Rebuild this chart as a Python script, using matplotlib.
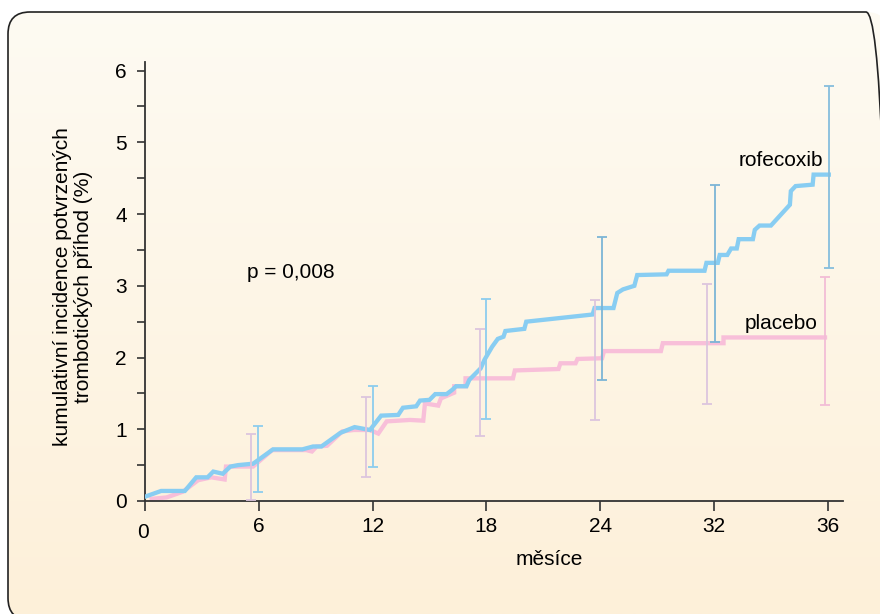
import matplotlib
matplotlib.use('Agg')
import matplotlib.pyplot as plt
import numpy as np
from matplotlib.patches import FancyBboxPatch
from matplotlib.transforms import ScaledTranslation

# x is on the drawn month scale (the "32" tick sits where 30 would be)
rofe_x = [0, 0.85, 2.1, 2.7, 3.3, 3.6, 4.1, 4.5, 4.9, 5.7, 6.75, 8.3, 8.86, 9.3,
          10.3, 11.05, 11.86, 12.45, 13.35, 13.6, 14.3, 14.5, 15.0, 15.3, 15.9,
          16.2, 16.4, 16.95, 17.1, 17.7, 17.9, 18.3, 18.6, 18.9, 19.0, 20.0, 20.1,
          23.6, 23.7, 24.7, 24.9, 25.2, 25.8, 25.95, 27.5, 27.6, 29.5, 29.6, 30.2,
          30.3, 30.7, 30.9, 31.2, 31.3, 32.05, 32.15, 32.4, 33.0, 34.0, 34.05,
          34.3, 35.2, 35.25, 36.05]
rofe_y = [0.06, 0.14, 0.14, 0.33, 0.33, 0.41, 0.38, 0.48, 0.5, 0.52, 0.72, 0.72,
          0.76, 0.76, 0.95, 1.03, 0.99, 1.19, 1.2, 1.3, 1.32, 1.4, 1.41, 1.49,
          1.49, 1.55, 1.6, 1.6, 1.69, 1.85, 1.97, 2.15, 2.26, 2.29, 2.37, 2.4,
          2.5, 2.6, 2.69, 2.69, 2.9, 2.95, 3.0, 3.15, 3.16, 3.21, 3.21, 3.32,
          3.32, 3.43, 3.43, 3.52, 3.52, 3.65, 3.65, 3.78, 3.84, 3.84, 4.13, 4.32,
          4.39, 4.41, 4.55, 4.55]

plac_x = [0.35, 1.14, 2.0, 2.8, 3.5, 4.2, 4.27, 5.7, 6.7, 8.5, 8.8, 9.05, 9.6,
          10.4, 11.0, 11.86, 12.3, 12.74, 13.97, 14.67, 14.76, 15.46, 15.6, 16.3,
          16.3, 16.9, 16.9, 19.4, 19.5, 21.8, 21.9, 22.7, 22.8, 24.1, 24.2, 27.2,
          27.3, 30.5, 30.5, 35.85]
plac_y = [0.03, 0.05, 0.13, 0.29, 0.33, 0.3, 0.48, 0.48, 0.71, 0.71, 0.69, 0.76,
          0.77, 0.97, 0.99, 0.99, 0.94, 1.11, 1.13, 1.12, 1.36, 1.33, 1.43, 1.51,
          1.6, 1.6, 1.71, 1.71, 1.82, 1.84, 1.92, 1.92, 1.98, 1.99, 2.09, 2.09,
          2.2, 2.2, 2.28, 2.28]

# confidence intervals
rofe_ci_x = [5.95, 12.0, 18.0, 24.07, 30.03, 36.05]
rofe_ci_lo = [0.12, 0.48, 1.14, 1.69, 2.21, 3.25]
rofe_ci_hi = [1.04, 1.6, 2.82, 3.68, 4.4, 5.79]
plac_ci_x = [5.6, 11.65, 17.66, 23.7, 29.64, 35.85]
plac_ci_lo = [0.01, 0.34, 0.91, 1.13, 1.35, 1.34]
plac_ci_hi = [0.93, 1.45, 2.4, 2.8, 3.02, 3.12]

x_ticks = [0, 6, 12, 18, 24, 30, 36]
x_labels = ['0', '6', '12', '18', '24', '32', '36']

BLUE = '#88cdf2'
PINK = '#f8bfd9'
rofe_ci_col = ['#8dcdee', '#8dcdee', '#8dcdee', '#7cb5d6', '#7cb5d6', '#86bedd']
plac_ci_col = ['#dcc5de', '#dcc5de', '#dcc5de', '#dcc5de', '#dcc5de', '#f2bdd6']

plt.rcParams['font.family'] = ['Liberation Sans', 'DejaVu Sans']


def main():
    fig = plt.figure(figsize=(8.8, 6.14), dpi=100)
    W, H = 880, 614

    # rounded panel with a soft vertical gradient
    box = FancyBboxPatch((8 / W, 1 - 620 / H), 880 / W, 608 / H,
                         boxstyle='round,pad=0,rounding_size=0.025',
                         transform=fig.transFigure, facecolor='none',
                         edgecolor='#222222', linewidth=1.2, zorder=2,
                         mutation_aspect=W / H)
    fig.add_artist(box)
    grad_ax = fig.add_axes([0, 0, 1, 1], zorder=-1)
    grad_ax.axis('off')
    top = np.array([254, 251, 243]) / 255
    bot = np.array([253, 240, 217]) / 255
    t = np.linspace(0, 1, 256)[:, None]
    img = (top[None, :] * (1 - t) + bot[None, :] * t)[:, None, :]
    im = grad_ax.imshow(img, aspect='auto', extent=[0, 1, 0, 1],
                        transform=fig.transFigure)
    im.set_clip_path(box)

    ax = fig.add_axes([145 / W, 1 - 501 / H, 698 / W, 439 / H])
    ax.patch.set_visible(False)

    ax.plot(rofe_x, rofe_y, color=BLUE, lw=3.1, solid_joinstyle='miter', zorder=3)
    ax.plot(plac_x, plac_y, color=PINK, lw=3.1, solid_joinstyle='miter', zorder=2)

    for xs, lo, hi, cols in [(plac_ci_x, plac_ci_lo, plac_ci_hi, plac_ci_col),
                             (rofe_ci_x, rofe_ci_lo, rofe_ci_hi, rofe_ci_col)]:
        for x, l, h, c in zip(xs, lo, hi, cols):
            m = (l + h) / 2
            ax.errorbar([x], [m], yerr=[[m - l], [h - m]], fmt='none',
                        ecolor=c, elinewidth=1.3, capsize=3.6,
                        capthick=1.3, zorder=4)

    ax.set_xlim(0, 36.8)
    ax.set_ylim(0, 6.12)
    ax.spines['top'].set_visible(False)
    ax.spines['right'].set_visible(False)
    for s in ('left', 'bottom'):
        ax.spines[s].set_linewidth(1.3)
        ax.spines[s].set_color('#333333')

    ax.set_xticks(x_ticks)
    ax.set_xticklabels(x_labels)
    ax.set_yticks(range(7))
    ax.set_yticks(np.arange(0.5, 6, 1), minor=True)
    ax.tick_params(axis='x', length=7.5, width=1.2, color='#333333',
                   labelsize=15, pad=4)
    ax.tick_params(axis='y', which='both', length=6, width=1.2,
                   color='#333333', labelsize=15, pad=7)
    # the "0" on the x axis sits a bit lower
    lbl = ax.xaxis.get_major_ticks()[0].label1
    lbl.set_transform(lbl.get_transform() +
                      ScaledTranslation(-1.5 / 100, -6 / 100, fig.dpi_scale_trans))

    ax.set_xlabel('měsíce', fontsize=15, va='baseline')
    ax.xaxis.set_label_coords((549 - 145) / 698, (501 - 565) / 439)
    ax.set_ylabel('kumulativní incidence potvrzených\ntrombotických příhod (%)',
                  fontsize=15, va='center', ha='center', linespacing=1.1)
    ax.yaxis.set_label_coords((73 - 145) / 698, (501 - 287) / 439)

    ax.text(35.74, 4.67, 'rofecoxib', fontsize=15, ha='right', va='baseline')
    ax.text(35.48, 2.40, 'placebo', fontsize=15, ha='right', va='baseline')
    ax.text(5.36, 3.11, 'p = 0,008', fontsize=15, ha='left', va='baseline')

    fig.savefig('out.png', dpi=100)


if __name__ == '__main__':
    main()
